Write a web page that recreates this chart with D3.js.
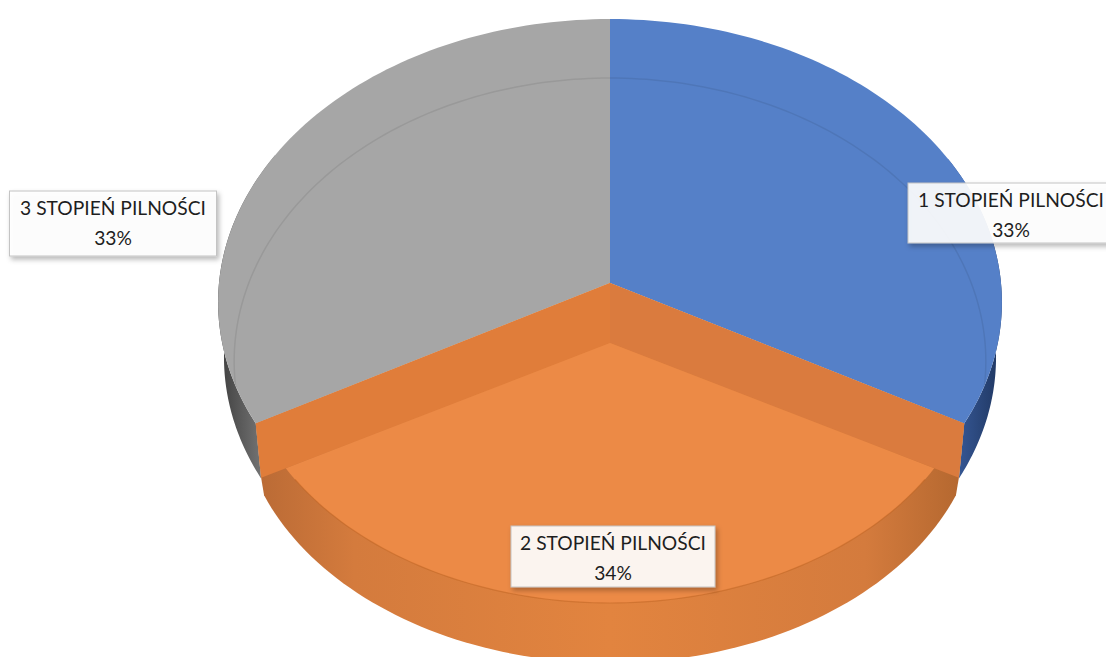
<!DOCTYPE html>
<html>
<head>
<meta charset="utf-8">
<script src="https://cdn.jsdelivr.net/npm/d3@7"></script>
<style>
    html, body { margin: 0; padding: 0; background: #fff; overflow: hidden; }
</style>
</head>
<body>
<svg id="chart" width="1106" height="657"></svg>
<script>
// slices, clockwise starting from the back of the pie
const categories = ["1 STOPIEŃ PILNOŚCI", "2 STOPIEŃ PILNOŚCI", "3 STOPIEŃ PILNOŚCI"];
const values = [33, 34, 33];
const topColors = ["#5580c8", "#ec8a46", "#a6a6a6"];

// label boxes (layout only)
const labelBoxes = [
    {cx: 1011, y: 183, w: 206, h: 60},
    {cx: 613, y: 526, w: 204, h: 61},
    {cx: 113, y: 191, w: 207, h: 65}
];

const svg = d3.select("#chart");
const defs = svg.append("defs");

/** projection of the pie top (perspective circle) */
const cx = 610, cy = 283;
const F = 391, tilt = 0.721, persp = 0.068;

function rim0(a) {
    let X = Math.sin(a), Y = Math.cos(a);
    let d = 1 + persp * Y;
    return [cx + F * X / d, cy - F * tilt * Y / d];
}

// lowered face of the front slice
const low = {cx: 610, cy: 343, rx: 370, ry: 260, drop: 60};

function rimL(a, k = 1) {
    return [low.cx + k * low.rx * Math.sin(a), low.cy - k * low.ry * Math.cos(a)];
}
function rimB(a) {
    return [low.cx + low.rx * Math.sin(a), low.cy + low.drop - low.ry * Math.cos(a)];
}
// bottom edge of the side walls of the back slices
function rimW(a) {
    let p = rim0(a);
    return [cx + 0.985 * (p[0] - cx), p[1] + 55];
}
// faint inner edge seen through the top
function rimIn(a) {
    let p = rim0(a);
    return [cx + 0.959 * (p[0] - cx), p[1] + 59];
}

function arcPts(fn, a0, a1, n = 90) {
    return d3.range(n + 1).map(i => fn(a0 + (a1 - a0) * i / n));
}

const line = d3.line();
const closed = pts => line(pts) + "Z";

const pie = d3.pie().sort(null).startAngle(0).endAngle(2 * Math.PI);
const arcs = pie(values);
const blue = arcs[0], orange = arcs[1], gray = arcs[2];

const apex0 = [cx, cy];
const apexL = [low.cx, low.cy];

// gradients
let g1 = defs.append("linearGradient").attr("id", "wallOrange")
    .attr("gradientUnits", "userSpaceOnUse")
    .attr("x1", 255).attr("x2", 965).attr("y1", 0).attr("y2", 0);
[[0, "#b96a35"], [0.14, "#d47b3d"], [0.5, "#e2843f"], [0.86, "#d47b3d"], [1, "#b3672f"]]
    .forEach(s => g1.append("stop").attr("offset", s[0]).attr("stop-color", s[1]));

let g2 = defs.append("linearGradient").attr("id", "wallGray")
    .attr("x1", 0).attr("x2", 1).attr("y1", 0).attr("y2", 0);
[[0, "#3e3e3e"], [1, "#8a8a8a"]]
    .forEach(s => g2.append("stop").attr("offset", s[0]).attr("stop-color", s[1]));

let g3 = defs.append("linearGradient").attr("id", "wallBlue")
    .attr("x1", 0).attr("x2", 1).attr("y1", 0).attr("y2", 0);
[[0, "#3d62a6"], [1, "#1f3660"]]
    .forEach(s => g3.append("stop").attr("offset", s[0]).attr("stop-color", s[1]));

let sh = defs.append("filter").attr("id", "shadow")
    .attr("x", -0.2).attr("y", -0.3).attr("width", 1.4).attr("height", 1.7);
sh.append("feDropShadow").attr("dx", 2).attr("dy", 3).attr("stdDeviation", 2.5)
    .attr("flood-color", "#000").attr("flood-opacity", 0.3);

const pieG = svg.append("g");

// side walls of the back slices
pieG.append("path")
    .attr("d", closed(arcPts(rim0, gray.startAngle, 5.2).concat(arcPts(rimW, 5.2, gray.startAngle))))
    .attr("fill", "url(#wallGray)");
pieG.append("path")
    .attr("d", closed(arcPts(rim0, 1.1, blue.endAngle).concat(arcPts(rimW, blue.endAngle, 1.1))))
    .attr("fill", "url(#wallBlue)");

// tops of the back slices
[blue, gray].forEach(d => {
    pieG.append("path")
        .attr("d", closed([apex0].concat(arcPts(rim0, d.startAngle, d.endAngle))))
        .attr("fill", topColors[d.index]);
});

// faint inner edge, clipped to the tops
let clip = defs.append("clipPath").attr("id", "topClip");
[blue, gray].forEach(d => {
    clip.append("path").attr("d", closed([apex0].concat(arcPts(rim0, d.startAngle, d.endAngle))));
});
pieG.append("path")
    .attr("d", line(arcPts(rimIn, gray.startAngle, 2 * Math.PI + blue.endAngle, 200)))
    .attr("fill", "none")
    .attr("stroke", "#000")
    .attr("stroke-opacity", 0.08)
    .attr("stroke-width", 1.5)
    .attr("clip-path", "url(#topClip)");

// front slice: outer wall
const oS = orange.startAngle, oE = orange.endAngle;
const pR = rimL(oS, 1.076), pL = rimL(oE, 1.076);
let wallPts = [apex0, rim0(oS), pR]
    .concat(arcPts(rimB, oS - 0.14, oE + 0.14))
    .concat([pL, rim0(oE)]);
pieG.append("path").attr("d", closed(wallPts)).attr("fill", "url(#wallOrange)");

// radial walls
pieG.append("path")
    .attr("d", closed([apex0, rim0(oS), pR, apexL]))
    .attr("fill", "#da7b3e");
pieG.append("path")
    .attr("d", closed([apex0, rim0(oE), pL, apexL]))
    .attr("fill", "#e07d3a");

// lowered top face
pieG.append("path")
    .attr("d", closed([apexL].concat(arcPts(rimL, oS, oE))))
    .attr("fill", topColors[orange.index]);
pieG.append("path")
    .attr("d", line(arcPts(rimL, oS + 0.05, oE - 0.05)))
    .attr("fill", "none")
    .attr("stroke", "#b8601f")
    .attr("stroke-opacity", 0.45)
    .attr("stroke-width", 1.2);

// data labels
const total = d3.sum(values);
const fmt = d3.format(".0%");
const labelG = svg.append("g");

arcs.forEach(d => {
    let b = labelBoxes[d.index];
    let g = labelG.append("g");
    g.append("rect")
        .attr("x", b.cx - b.w / 2).attr("y", b.y)
        .attr("width", b.w).attr("height", b.h)
        .attr("fill", "#fff").attr("fill-opacity", 0.9)
        .attr("stroke", "#c4c4c4").attr("stroke-width", 1)
        .attr("filter", "url(#shadow)");
    let t1 = g.append("text")
        .attr("x", b.cx).attr("y", b.y + 24)
        .attr("text-anchor", "middle")
        .style("font-family", "Lato, 'Open Sans', sans-serif")
        .style("font-size", "18px")
        .attr("fill", "#1e1e1e")
        .text(categories[d.index]);
    // fit the name to the width
    let w = t1.node().getComputedTextLength();
    let fs = 18 * 186 / w;
    t1.style("font-size", fs + "px");
    g.append("text")
        .attr("x", b.cx).attr("y", b.y + 54)
        .attr("text-anchor", "middle")
        .style("font-family", "Lato, 'Open Sans', sans-serif")
        .style("font-size", fs + "px")
        .attr("fill", "#1e1e1e")
        .text(fmt(d.value / total));
});
</script>
</body>
</html>
